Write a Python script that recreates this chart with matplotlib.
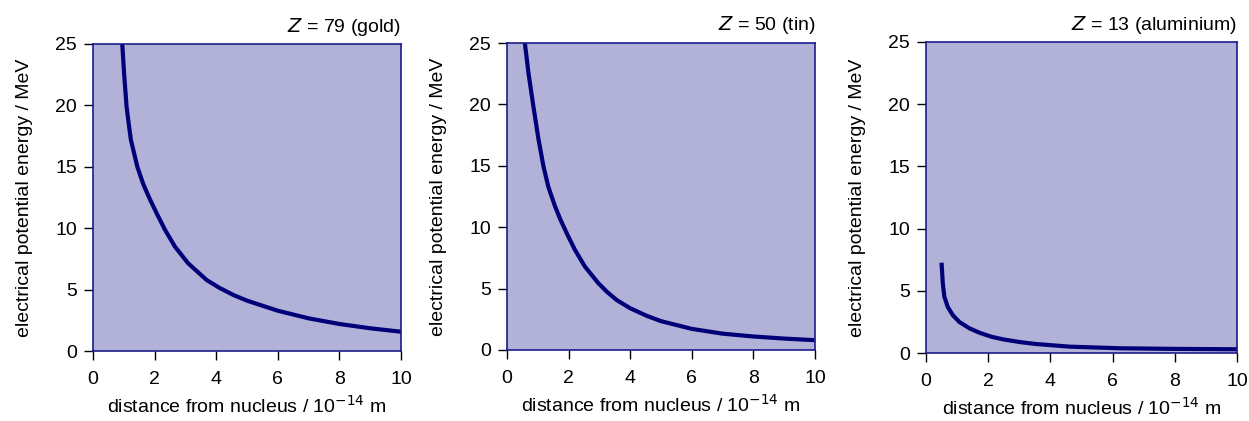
import matplotlib
matplotlib.use("Agg")
import matplotlib.pyplot as plt

plt.rcParams['font.family'] = ['Liberation Sans', 'DejaVu Sans']

# values (x in 1e-14 m, y in MeV)
gold_x = [0.95, 1.01, 1.09, 1.16, 1.23, 1.44, 1.63, 1.83, 2.07, 2.34, 2.66, 3.09, 3.69,
	4.1, 4.56, 5.0, 6.0, 7.0, 8.0, 9.0, 10.0]
gold_y = [25.0, 22.6, 19.9, 18.5, 17.2, 15.0, 13.6, 12.45, 11.2, 9.86, 8.5, 7.14, 5.78,
	5.15, 4.56, 4.1, 3.28, 2.66, 2.2, 1.85, 1.57]

tin_x = [0.58, 0.70, 0.85, 1.02, 1.18, 1.34, 1.56, 1.72, 1.96, 2.21, 2.53, 2.97,
	3.24, 3.56, 4.0, 4.54, 5.0, 6.0, 7.0, 8.0, 9.0, 10.0]
tin_y = [25.0, 22.5, 19.95, 17.2, 15.0, 13.3, 11.7, 10.7, 9.4, 8.14, 6.79, 5.43,
	4.75, 4.07, 3.4, 2.78, 2.35, 1.72, 1.33, 1.1, 0.93, 0.8]

al_x = [0.50, 0.54, 0.59, 0.70, 0.86, 1.07, 1.40, 1.72, 2.10, 2.47, 3.01, 3.55,
	4.62, 6.24, 8.0, 10.0]
al_y = [7.26, 5.6, 4.53, 3.7, 3.05, 2.5, 1.98, 1.63, 1.31, 1.1, 0.88, 0.72,
	0.51, 0.38, 0.33, 0.30]

titles = ["79 (gold)", "50 (tin)", "13 (aluminium)"]
series = [(gold_x, gold_y), (tin_x, tin_y), (al_x, al_y)]

W, H = 1249, 421
# axes boxes in pixels: left, top, right, bottom
boxes = [(93, 44, 401, 351), (507, 43, 815, 350), (926, 42, 1237, 353)]

face = '#b2b2d8'
navy = '#000078'
edge = '#1c1c8a'

fig = plt.figure(figsize=(W / 100, H / 100), dpi=100)

for (l, t, r, b), (xs, ys), name in zip(boxes, series, titles):
	ax = fig.add_axes([l / W, (H - b) / H, (r - l) / W, (b - t) / H])
	ax.set_facecolor(face)
	ax.plot(xs, ys, color=navy, lw=3.0, solid_capstyle='butt', solid_joinstyle='round')
	ax.set_xlim(0, 10)
	ax.set_ylim(0, 25)
	ax.set_xticks([0, 2, 4, 6, 8, 10])
	ax.set_yticks([0, 5, 10, 15, 20, 25])
	for s in ax.spines.values():
		s.set_color(edge)
		s.set_linewidth(1.2)
	ax.tick_params(direction='out', length=6.5, width=1.0, color='black',
		labelsize=14)
	ax.tick_params(axis='x', pad=8)
	ax.tick_params(axis='y', pad=5)
	ax.set_xlabel('distance from nucleus / 10$^{\u221214}$ m', fontsize=14, labelpad=5)
	ax.set_ylabel('electrical potential energy / MeV', fontsize=14, labelpad=16)
	ax.set_title('$\\it{Z}$ = ' + name, loc='right', fontsize=14, pad=9)

fig.savefig('out.png', dpi=100)
